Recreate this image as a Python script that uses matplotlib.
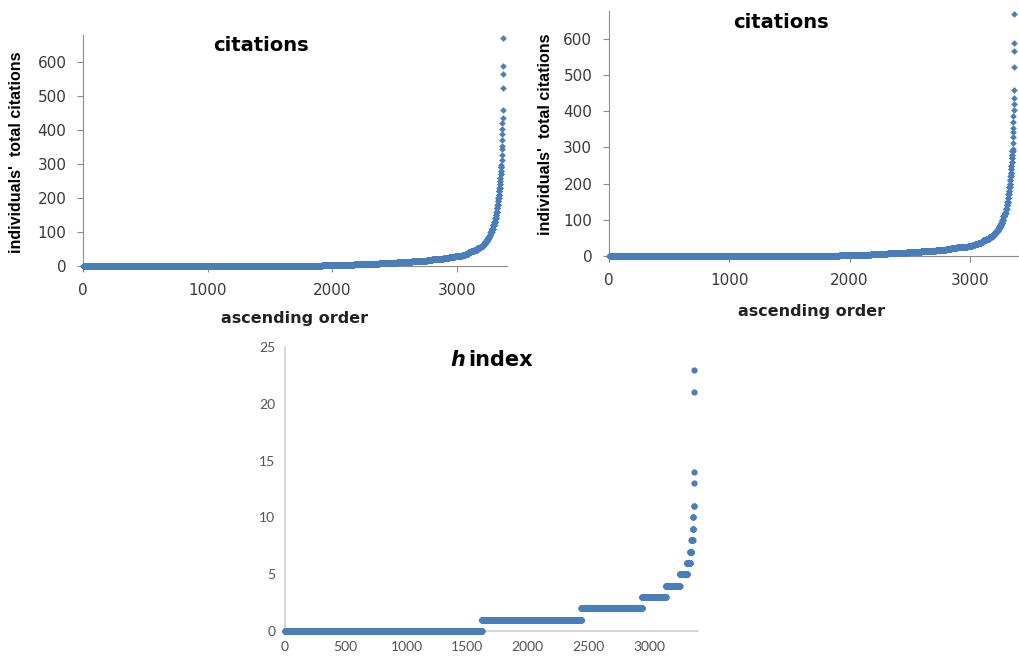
import matplotlib.pyplot as plt
import numpy as np

# total citations per individual: value -> number of individuals
cit_values = [0, 1, 2, 3, 4, 5, 6, 7, 8, 9, 10, 11, 12, 13, 14, 15, 16,
              18, 20, 22, 24, 26, 28, 30, 33, 36, 40, 44, 48, 52, 56, 60,
              65, 70, 75, 80, 85, 90, 100, 110, 120, 130, 140, 150, 160,
              170, 180, 190, 200, 210, 220, 230, 240, 250, 260, 270, 280, 290]
cit_counts = [1820, 95, 95, 85, 80, 75, 65, 60, 55, 45, 40, 40, 40, 40, 40, 40, 40,
              45, 45, 45, 45, 45, 40, 20, 25, 25, 20, 25, 25, 20, 15, 15,
              10, 10, 10, 10, 10, 7, 10, 10, 10, 8, 6, 4, 4,
              4, 4, 3, 3, 3, 3, 3, 2, 2, 2, 2, 2, 3]
# the most cited individuals
cit_top = [296, 313, 328, 343, 354, 370, 388, 404, 421, 437, 460, 523, 566, 590, 670]

# h index -> number of individuals
h_values = [0, 1, 2, 3, 4, 5, 6, 7, 8, 9, 10, 11, 13, 14, 21, 23]
h_counts = [1620, 820, 500, 195, 115, 60, 25, 12, 10, 4, 3, 2, 1, 1, 1, 1]

cit = np.concatenate([np.repeat(cit_values, cit_counts), cit_top])
cit_rank = np.arange(1, len(cit) + 1)
h = np.repeat(h_values, h_counts)
h_rank = np.arange(1, len(h) + 1)

blue = '#4a7ebb'

fig = plt.figure(figsize=(10.19, 6.6), dpi=100)


def citas(rect, ylim_top):
    ax = fig.add_axes(rect)
    ax.plot(cit_rank, cit, 'D', ms=3.4, mew=0, color=blue, clip_on=False, zorder=3)
    ax.set_xlim(0, 3400)
    ax.set_ylim(0, ylim_top)
    ax.set_xticks([0, 1000, 2000, 3000])
    ax.set_yticks(range(0, 700, 100))
    for s in ['top', 'right']:
        ax.spines[s].set_visible(False)
    for s in ['left', 'bottom']:
        ax.spines[s].set_color('#8c8c8c')
    ax.tick_params(colors='#8c8c8c', labelcolor='#3a3a3a', labelsize=11,
                   length=4, pad=8)
    ax.text(0.42, 0.955, 'citations', transform=ax.transAxes, ha='center',
            va='center', fontsize=14, fontweight='bold')
    return ax


citas([0.0815, 0.597, 0.416, 0.35], 680)
citas([0.5976, 0.6121, 0.4014, 0.3712], 677)

fig.text(295 / 1019, 1 - 318 / 660, 'ascending order', ha='center', va='center',
         fontsize=11.5, fontweight='bold', color='#222222')
fig.text(812 / 1019, 1 - 312 / 660, 'ascending order', ha='center', va='center',
         fontsize=11.5, fontweight='bold', color='#222222')
fig.text(17 / 1019, 1 - 152 / 660, "individuals'  total citations", rotation=90,
         ha='center', va='center', fontsize=11.5, fontweight='bold',
         family='Liberation Sans')
fig.text(545 / 1019, 1 - 134 / 660, "individuals'  total citations", rotation=90,
         ha='center', va='center', fontsize=11.5, fontweight='bold',
         family='Liberation Sans')

# h index
ax = fig.add_axes([0.2797, 0.0439, 0.4051, 0.4303])
ax.plot(h_rank, h, 'o', ms=4.5, mew=0, color=blue, clip_on=False, zorder=3)
ax.set_xlim(0, 3400)
ax.set_ylim(0, 25)
ax.set_xticks(range(0, 3500, 500))
ax.set_yticks(range(0, 30, 5))
for s in ['top', 'right']:
    ax.spines[s].set_visible(False)
for s in ['left', 'bottom']:
    ax.spines[s].set_color('#d0d0d0')
    ax.spines[s].set_linewidth(1.2)
ax.tick_params(length=0, labelcolor='#555555', labelsize=10, pad=7)
for lab in ax.get_xticklabels() + ax.get_yticklabels():
    lab.set_family('Lato')
ax.text(465 / 1019, 1 - 360 / 660, 'h', transform=fig.transFigure, ha='right',
        va='center', fontsize=15, fontweight='bold', style='italic')
ax.text(468 / 1019, 1 - 360 / 660, 'index', transform=fig.transFigure, ha='left',
        va='center', fontsize=15, fontweight='bold')

plt.savefig('out.png', dpi=100)
